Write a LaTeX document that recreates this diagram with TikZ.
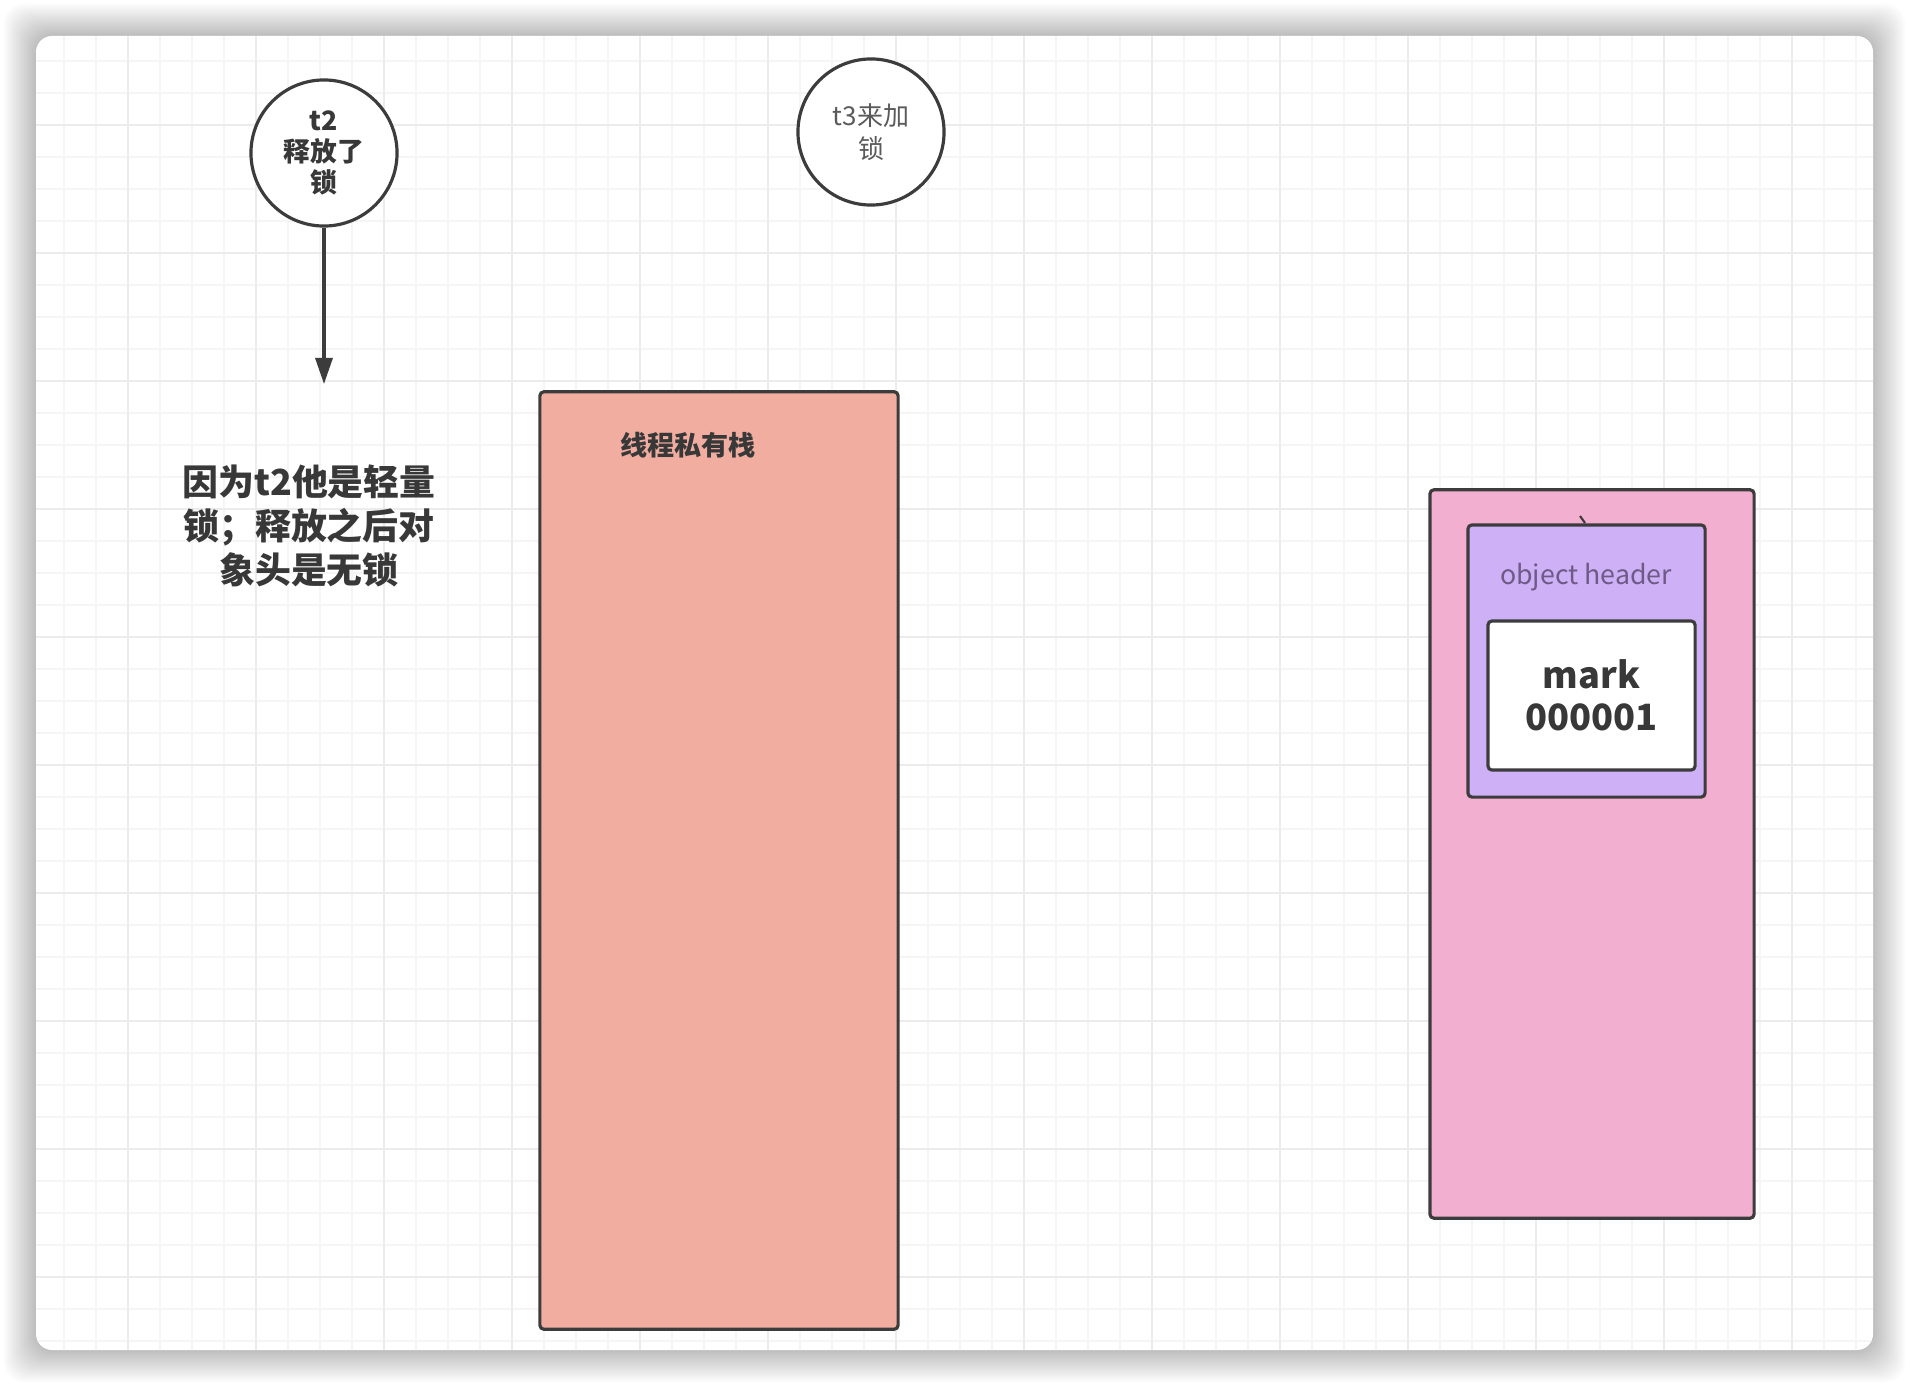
\documentclass[tikz,border=0pt]{standalone}
\usepackage{fontspec}
\setmainfont{Noto Sans CJK SC}
\usetikzlibrary{arrows.meta}

\definecolor{linegray}{HTML}{3C3C3C}
\definecolor{textgray}{HTML}{383838}
\definecolor{lightgray}{HTML}{5A5A5A}
\definecolor{gridminor}{HTML}{F5F5F5}
\definecolor{gridmajor}{HTML}{ECECEC}
\definecolor{stackfill}{HTML}{F2ADA1}
\definecolor{objfill}{HTML}{F2AFD0}
\definecolor{headfill}{HTML}{CEB0F6}
\definecolor{headtext}{HTML}{6F5A86}

\tikzset{
  lockcirc/.style={circle, draw=linegray, line width=0.9pt, fill=white,
    minimum size=1.46cm, inner sep=0pt, align=center},
  membox/.style={draw=linegray, line width=0.9pt, rounded corners=0.4mm,
    inner sep=0pt},
}

\begin{document}
\begin{tikzpicture}[x=0.01cm, y=-0.01cm]
            \useasboundingbox (0,0) rectangle (1910,1388);
            \fill[white] (0,0) rectangle (1910,1388);

            % card shadow
            \foreach \s in {1,...,16}{
                \fill[black, opacity=0.016, rounded corners=2mm]
                    (36-2*\s,36-2*\s) rectangle (1873+2*\s,1350+2*\s);
            }
            \fill[white, rounded corners=1.6mm] (36,36) rectangle (1873,1350);

            % grid
            \begin{scope}
                \clip[rounded corners=1.6mm] (36,36) rectangle (1873,1350);
                \foreach \x in {64,96,...,1856}{
                    \draw[gridminor, line width=0.5pt] (\x,36) -- (\x,1350);
                }
                \foreach \y in {61,93,...,1341}{
                    \draw[gridminor, line width=0.5pt] (36,\y) -- (1873,\y);
                }
                \foreach \x in {128,256,...,1792}{
                    \draw[gridmajor, line width=0.6pt] (\x,36) -- (\x,1350);
                }
                \foreach \y in {125,253,...,1277}{
                    \draw[gridmajor, line width=0.6pt] (36,\y) -- (1873,\y);
                }
            \end{scope}

            % lock events
            \node[lockcirc, text=textgray,
                font=\bfseries\fontsize{7.6pt}{8.8pt}\selectfont]
                (t2) at (324,153) {t2\\释放了\\锁};
            \node[lockcirc, text=lightgray,
                font=\fontsize{7.4pt}{9.3pt}\selectfont]
                (t3) at (871,132) {t3来加\\锁};
            \coordinate (t2end) at (324,384);
            \draw[linegray, line width=0.9pt,
                -{Triangle[length=2.6mm,width=1.7mm]}] (t2) -- (t2end);

            \node[text=textgray, align=center,
                font=\bfseries\fontsize{10.2pt}{12.4pt}\selectfont]
                (note) at (309,526) {因为t2他是轻量\\锁；释放之后对\\象头是无锁};

            % thread stack
            \node[membox, fill=stackfill, minimum width=3.58cm,
                minimum height=9.37cm] (stack) at (719,860.5) {};
            \node[text=textgray, font=\bfseries\fontsize{7.7pt}{9pt}\selectfont]
                (stacklabel) at (688,445) {线程私有栈};

            % object in heap
            \node[membox, fill=objfill, minimum width=3.24cm,
                minimum height=7.28cm] (obj) at (1592,854) {};
            \node[membox, fill=headfill, minimum width=2.37cm,
                minimum height=2.72cm] (head) at (1586.5,661) {};
            \node[text=headtext, font=\fontsize{7.6pt}{9pt}\selectfont]
                (headlabel) at (1586,577) {object header};
            \node[membox, fill=white, minimum width=2.07cm,
                minimum height=1.49cm, align=center, text=textgray,
                font=\bfseries\fontsize{10.3pt}{12pt}\selectfont]
                (mark) at (1591.5,695.5) {mark\\000001};
            \draw[linegray, line width=0.6pt] (1580,516) -- (1585,523);
\end{tikzpicture}
\end{document}
